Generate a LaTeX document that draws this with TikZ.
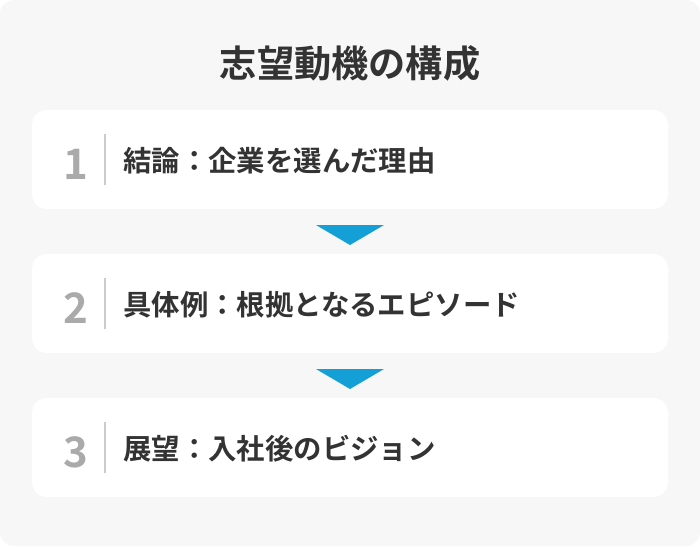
\documentclass[tikz,border=0pt]{standalone}
\usepackage{fontspec}
\newfontfamily\cjkb{Noto Sans CJK JP Bold}
\definecolor{bgc}{HTML}{F7F7F7}
\definecolor{txt}{HTML}{333333}
\definecolor{numc}{HTML}{AAAAAA}
\definecolor{divc}{HTML}{CCCCCC}
\definecolor{arr}{RGB}{20,160,215}
\tikzset{
  card/.style={fill=white, rounded corners=15pt},
  numlbl/.style={inner sep=0pt, text=numc, font=\cjkb\fontsize{42pt}{42pt}\selectfont},
  steplbl/.style={inner sep=0pt, anchor=west, text=txt, font=\cjkb\fontsize{28.4pt}{28.4pt}\selectfont},
  divline/.style={draw=divc, line width=2pt},
  downtri/.style={fill=arr}
}
\begin{document}
\begin{tikzpicture}[x=1pt,y=-1pt]
\useasboundingbox (0,0) rectangle (700,546);
\fill[white] (0,0) rectangle (700,546);
\fill[bgc, rounded corners=14pt] (0,0) rectangle (700,546);
\node[inner sep=0pt, text=txt, font=\cjkb\fontsize{37.2pt}{37.2pt}\selectfont] (title) at (350,63.5) {志望動機の構成};
% cards
\foreach \i/\top/\num/\lab in {1/110/1/結論：企業を選んだ理由, 2/254/2/具体例：根拠となるエピソード, 3/398/3/展望：入社後のビジョン}{
  \path[card] (32,\top) rectangle (668,\top+99);
  \node[numlbl] (n\i) at (75.5,\top+54.5) {\num};
  \coordinate (da\i) at (105,\top+24);
  \coordinate (db\i) at (105,\top+75);
  \draw[divline] (da\i) -- (db\i);
  \node[steplbl] (s\i) at (123,\top+51) {\lab};
}
\coordinate (t1a) at (316,225);
\coordinate (t1b) at (384,225);
\coordinate (t1c) at (350,245);
\fill[downtri] (t1a) -- (t1b) -- (t1c) -- cycle;
\coordinate (t2a) at (316,369);
\coordinate (t2b) at (384,369);
\coordinate (t2c) at (350,389);
\fill[downtri] (t2a) -- (t2b) -- (t2c) -- cycle;
\end{tikzpicture}
\end{document}
